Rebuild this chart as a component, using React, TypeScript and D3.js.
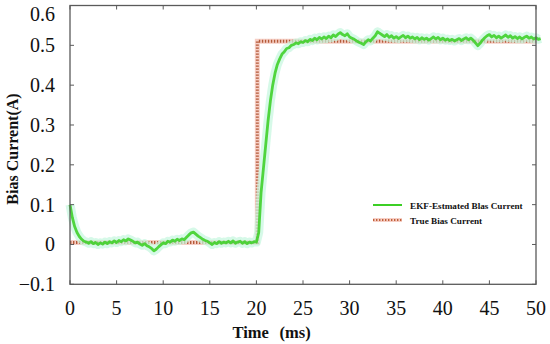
import React from "react";
import * as d3 from "d3";

// sample grid of the estimate (ms)
const timeStep = 0.25;
const estTime = d3.range(0, 50.5 + 1e-9, timeStep);

// EKF estimated bias current (A)
const estCurrent = [
  0.100, 0.068, 0.045, 0.030, 0.020, 0.013, 0.008, 0.006,
  0.003, 0.007, 0.002, 0.005, 0.000, 0.004, 0.001, 0.006,
  0.002, 0.007, 0.004, 0.009, 0.005, 0.010, 0.007, 0.012,
  0.009, 0.014, 0.011, 0.008, 0.004, 0.006, 0.001, -0.002,
  0.002, -0.003, -0.006, -0.010, -0.016, -0.012, -0.006, -0.001,
  0.004, 0.002, 0.008, 0.006, 0.011, 0.008, 0.013, 0.010,
  0.014, 0.012, 0.018, 0.024, 0.029, 0.031, 0.026, 0.021,
  0.017, 0.013, 0.010, 0.008, 0.004, 0.000, 0.005, 0.002,
  0.007, 0.003, 0.006, 0.004, 0.008, 0.004, 0.009, 0.003,
  0.006, 0.008, 0.003, 0.007, 0.002, 0.006, 0.004, 0.007,
  // step response
  0.006, 0.030, 0.130, 0.190, 0.250, 0.310, 0.360, 0.400,
  0.430, 0.452, 0.466, 0.478, 0.484, 0.492, 0.494, 0.500,
  0.502, 0.506, 0.504, 0.509,
  // steady state
  0.507, 0.512, 0.509, 0.515, 0.512, 0.518, 0.514, 0.520,
  0.516, 0.521, 0.517, 0.523, 0.519, 0.526, 0.522, 0.528,
  0.532, 0.527, 0.524, 0.529, 0.521, 0.518, 0.515, 0.511,
  0.508, 0.505, 0.502, 0.509, 0.514, 0.511, 0.518, 0.524,
  0.534, 0.530, 0.526, 0.522, 0.527, 0.520, 0.524, 0.518,
  0.522, 0.517, 0.521, 0.525, 0.519, 0.523, 0.518, 0.521,
  0.516, 0.520, 0.514, 0.519, 0.515, 0.518, 0.513, 0.517,
  0.521, 0.516, 0.520, 0.514, 0.518, 0.513, 0.516, 0.512,
  0.515, 0.511, 0.514, 0.517, 0.512, 0.516, 0.519, 0.514,
  0.518, 0.513, 0.506, 0.499, 0.505, 0.513, 0.519, 0.524,
  0.527, 0.521, 0.525, 0.519, 0.523, 0.518, 0.522, 0.526,
  0.520, 0.524, 0.518, 0.522, 0.517, 0.521, 0.516, 0.520,
  0.523, 0.518, 0.521, 0.516, 0.519, 0.515, 0.517,
];

// true bias current (step)
const trueTime = [0, 20.1, 20.1, 50];
const trueCurrent = [0.005, 0.005, 0.51, 0.51];

const xTicks = [0, 5, 10, 15, 20, 25, 30, 35, 40, 45, 50];
const yTicks = [-0.1, 0, 0.1, 0.2, 0.3, 0.4, 0.5, 0.6];
const yTickLabels = ["\u22120.1", "0", "0.1", "0.2", "0.3", "0.4", "0.5", "0.6"];

const legendItems = ["EKF-Estmated Blas Current", "True Bias Current"];

const serif = { fontFamily: '"Liberation Serif"' };

export default function App() {
  const x = d3.scaleLinear().domain([0, 50]).range([70, 536]);
  const y = d3.scaleLinear().domain([-0.1, 0.6]).range([284.3, 5.5]);

  const line = d3.line<[number, number]>()
    .x(d => x(d[0]))
    .y(d => y(d[1]));

  const estPath = line(estTime.map((t, i) => [t, estCurrent[i]]));
  const truePath = line(trueTime.map((t, i) => [t, trueCurrent[i]]));

  const [x0, x1] = x.range();
  const [yb, yt] = y.range();

  return (
    <svg width={550} height={344} style={{ position: "absolute", left: 0, top: 0, background: "#fff" }}>
      {/* true current, hatched look */}
      <path d={truePath!} fill="none" stroke="#f6cfc6" strokeWidth={5} />
      <path d={truePath!} fill="none" stroke="#b45a38" strokeWidth={3} strokeDasharray="1.4,1.6" />

      {/* estimate */}
      <path d={estPath!} fill="none" stroke="#c4f7de" strokeWidth={9} strokeOpacity={0.7} strokeLinejoin="round" />
      <path d={estPath!} fill="none" stroke="#3ccf25" strokeWidth={2.8} strokeOpacity={0.88} strokeLinejoin="round" />

      {/* frame */}
      <rect x={x0} y={yt} width={x1 - x0} height={yb - yt} fill="none" stroke="#5a5a5a" strokeWidth={1.3} />

      {/* ticks */}
      {xTicks.map(t => (
        <g key={"x" + t}>
          <line x1={x(t)} x2={x(t)} y1={yb} y2={yb - 4} stroke="#5a5a5a" strokeWidth={1} />
          <line x1={x(t)} x2={x(t)} y1={yt} y2={yt + 4} stroke="#5a5a5a" strokeWidth={1} />
          <text x={x(t)} y={315} textAnchor="middle" fontSize={20} fill="#111" style={serif}>{t}</text>
        </g>
      ))}
      {yTicks.map((v, i) => (
        <g key={"y" + v}>
          <line x1={x0} x2={x0 + 4} y1={y(v)} y2={y(v)} stroke="#5a5a5a" strokeWidth={1} />
          <line x1={x1} x2={x1 - 4} y1={y(v)} y2={y(v)} stroke="#5a5a5a" strokeWidth={1} />
          <text x={55} y={Math.max(y(v), 14)} dy="0.35em" textAnchor="end" fontSize={20} fill="#111" style={serif}>{yTickLabels[i]}</text>
        </g>
      ))}

      {/* axis titles */}
      <text x={232.5} y={338} fontSize={16.5} fontWeight="bold" fill="#111" style={serif}>Time</text>
      <text x={279.5} y={338} fontSize={16.5} fontWeight="bold" fill="#111" style={serif}>(ms)</text>
      <text transform="translate(18,149) rotate(-90)" textAnchor="middle" fontSize={16} fontWeight="bold" fill="#111" style={serif}>Bias Current(A)</text>

      {/* legend */}
      <line x1={373} x2={402} y1={205} y2={205} stroke="#3ccf25" strokeWidth={2} />
      <text x={410} y={208.5} fontSize={9.2} fontWeight="bold" fill="#111" style={serif}>{legendItems[0]}</text>
      <line x1={373} x2={402} y1={220} y2={220} stroke="#f6cfc6" strokeWidth={4} />
      <line x1={373} x2={402} y1={220} y2={220} stroke="#c0603a" strokeWidth={2} strokeDasharray="1.4,1.6" />
      <text x={410} y={223.5} fontSize={9.2} fontWeight="bold" fill="#111" style={serif}>{legendItems[1]}</text>
    </svg>
  );
}
